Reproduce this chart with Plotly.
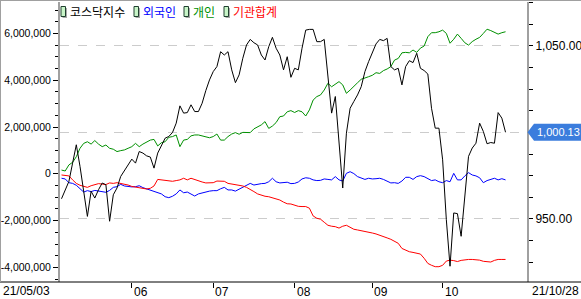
import pandas as pd
import plotly.graph_objects as go

# ---------------- data ----------------
holidays = ["2021-05-05", "2021-05-19", "2021-08-16", "2021-09-20", "2021-09-21",
            "2021-09-22", "2021-10-04", "2021-10-11"]
days = [d.strftime("%Y-%m-%d") for d in pd.bdate_range("2021-05-03", "2021-10-28")
        if d.strftime("%Y-%m-%d") not in holidays]

kosdaq = [961.7, 966.9, 971.7, 982.3, 992.9, 980.4, 965.0, 951.5, 966.0, 962.1,
          966.9, 970.8, 969.8, 948.7, 964.0, 967.9, 974.6, 978.1, 981.3, 984.6,
          982.3, 989.0, 988.1, 986.5, 985.8, 979.4, 988.1, 992.9, 996.7, 997.7,
          1000.0, 1005.4, 1015.4, 1011.2, 1011.5, 1016.0, 1012.1, 1012.1, 1016.9, 1024.2,
          1030.4, 1035.2, 1038.1, 1046.7, 1044.8, 1046.7, 1036.2, 1028.8, 1033.3, 1042.9,
          1050.6, 1053.8, 1051.9, 1050.6, 1044.8, 1041.9, 1049.6, 1055.0, 1048.7, 1044.8,
          1036.2, 1043.8, 1031.9, 1037.1, 1036.2, 1048.7, 1059.2, 1059.6, 1059.6, 1052.5,
          1052.5, 1053.8, 1030.4, 1011.2, 1020.8, 993.8, 967.9, 999.6, 1014.0, 1017.9,
          1021.7, 1026.5, 1035.2, 1041.0, 1045.8, 1051.2, 1053.8, 1053.1, 1054.4, 1038.1,
          1036.2, 1037.1, 1027.5, 1038.1, 1041.5, 1040.4, 1045.8, 1037.1, 1035.8, 1033.8,
          1014.0, 1002.5, 1002.5, 984.2, 949.6, 922.7, 953.5, 953.1, 940.0, 963.1,
          986.2, 991.0, 993.8, 1005.4, 1000.6, 993.5, 994.2, 993.8, 1011.5, 1008.3,
          1000.13]

# net buying, millions
foreign_m = [-0.19, -0.22, -0.38, -0.41, -0.49, -0.64, -0.78, -0.72, -0.76, -0.71,
             -0.74, -0.75, -0.79, -0.71, -0.58, -0.55, -0.45, -0.52, -0.55, -0.56,
             -0.55, -0.51, -0.59, -0.65, -0.69, -0.74, -0.81, -0.86, -0.98, -1.02,
             -0.96, -0.86, -0.69, -0.81, -0.78, -0.86, -0.95, -0.86, -0.81, -0.78,
             -0.74, -0.72, -0.72, -0.64, -0.58, -0.69, -0.69, -0.74, -0.66, -0.58,
             -0.48, -0.41, -0.48, -0.44, -0.42, -0.41, -0.34, -0.19, -0.34, -0.39,
             -0.38, -0.36, -0.42, -0.41, -0.35, -0.22, -0.17, -0.19, -0.26, -0.29,
             -0.28, -0.22, -0.24, -0.26, -0.12, -0.26, -0.31, 0.02, 0.09, 0.01,
             -0.12, -0.18, -0.24, -0.19, -0.22, -0.21, -0.19, -0.24, -0.32, -0.39,
             -0.38, -0.41, -0.31, -0.15, -0.15, -0.24, -0.12, -0.08, -0.12, -0.22,
             -0.29, -0.26, -0.34, -0.38, -0.29, -0.34, 0.02, -0.26, -0.26, -0.09,
             0.05, -0.05, -0.09, -0.17, -0.38, -0.29, -0.24, -0.19, -0.26, -0.21,
             -0.26]

individual_m = [0.16, 0.12, 0.38, 0.49, 0.73, 1.09, 1.30, 1.37, 1.27, 1.42,
                1.27, 1.16, 1.23, 1.09, 1.05, 0.95, 0.99, 1.02, 1.09, 1.16,
                1.30, 1.16, 1.27, 1.37, 1.44, 1.47, 1.19, 1.33, 1.37, 1.56,
                1.59, 1.66, 1.16, 1.44, 1.47, 1.62, 1.66, 1.66, 1.62, 1.56,
                1.54, 1.59, 1.70, 1.44, 1.44, 1.59, 1.70, 1.76, 1.69, 1.77,
                1.76, 1.76, 1.92, 1.99, 2.09, 2.23, 1.94, 2.04, 2.19, 2.44,
                2.47, 2.65, 2.70, 2.62, 2.70, 2.65, 2.47, 2.73, 3.15, 3.30,
                3.37, 3.58, 3.87, 3.72, 3.84, 3.94, 3.80, 3.44, 3.58, 3.75,
                3.89, 4.04, 4.11, 4.15, 4.21, 4.32, 4.29, 4.41, 4.48, 4.58,
                4.86, 4.93, 5.17, 5.19, 5.17, 5.29, 5.19, 5.37, 5.46, 5.86,
                6.03, 6.03, 6.07, 6.14, 6.00, 5.58, 5.75, 5.97, 5.79, 5.60,
                5.50, 5.65, 5.75, 5.83, 6.00, 6.18, 6.12, 6.03, 5.97, 6.03,
                6.07]

institution_m = [-0.05, -0.08, -0.09, -0.26, -0.41, -0.49, -0.55, -0.58, -0.51, -0.45,
                 -0.42, -0.44, -0.46, -0.39, -0.41, -0.38, -0.41, -0.45, -0.48, -0.54,
                 -0.56, -0.59, -0.62, -0.65, -0.62, -0.52, -0.24, -0.26, -0.28, -0.31,
                 -0.32, -0.29, -0.26, -0.19, -0.26, -0.19, -0.25, -0.31, -0.35, -0.39,
                 -0.38, -0.38, -0.31, -0.31, -0.32, -0.41, -0.44, -0.45, -0.48, -0.52,
                 -0.58, -0.66, -0.76, -0.86, -0.92, -0.96, -0.98, -1.02, -1.06, -1.12,
                 -1.21, -1.28, -1.29, -1.35, -1.39, -1.40, -1.40, -1.47, -1.80, -1.90,
                 -1.94, -2.07, -2.20, -2.24, -2.26, -2.32, -2.24, -2.20, -2.29, -2.37,
                 -2.40, -2.43, -2.46, -2.47, -2.53, -2.57, -2.62, -2.66, -2.74, -2.80,
                 -2.90, -2.97, -3.19, -3.26, -3.33, -3.36, -3.38, -3.43, -3.61, -3.83,
                 -3.91, -3.97, -3.97, -3.91, -3.73, -3.69, -3.71, -3.75, -3.70, -3.67,
                 -3.66, -3.66, -3.66, -3.69, -3.74, -3.77, -3.77, -3.70, -3.66, -3.66,
                 -3.66]

series_names = ["코스닥지수", "외국인", "개인", "기관합계"]
series_colors = ["#000000", "#0000ff", "#009000", "#ff0000"]

left_ticks = [-4000000, -2000000, 0, 2000000, 4000000, 6000000]
left_labels = ["-4,000,000", "-2,000,000", "0", "2,000,000", "4,000,000", "6,000,000"]
right_ticks = [950, 1000, 1050]
right_labels = ["950.00", "", "1,050.00"]
month_days = ["2021-06-01", "2021-07-01", "2021-08-02", "2021-09-01", "2021-10-01"]
month_labels = ["06", "07", "08", "09", "10"]
start_label = "21/05/03"
end_label = "21/10/28"

assert len(days) == len(kosdaq) == len(foreign_m) == len(individual_m) == len(institution_m)

# ---------------- figure ----------------
W, H = 581, 299
L, R, T, B = 60, 54, 2, 17
PW, PH = W - L - R, H - T - B


def px(x):  # pixel x -> paper
    return (x - L) / PW


def py(y):  # pixel y -> paper
    return (H - B - y) / PH


FONT = "Liberation Sans, Arial, sans-serif"
KFONT = "Noto Sans CJK KR, sans-serif"

fig = go.Figure()
for name, vals, col in [(series_names[1], foreign_m, series_colors[1]),
                        (series_names[2], individual_m, series_colors[2]),
                        (series_names[3], institution_m, series_colors[3])]:
    fig.add_trace(go.Scatter(x=days, y=[v * 1e6 for v in vals], mode="lines", name=name,
                             line=dict(color=col, width=1), yaxis="y"))
fig.add_trace(go.Scatter(x=days, y=kosdaq, mode="lines", name=series_names[0],
                         line=dict(color=series_colors[0], width=1), yaxis="y2"))

y2_range = [913.58, 1075.43]
fig.update_layout(
    width=W, height=H, margin=dict(l=L, r=R, t=T, b=B, pad=0, autoexpand=False),
    paper_bgcolor="white", plot_bgcolor="white", showlegend=False,
    font=dict(family=FONT, size=12, color="black"),
    xaxis=dict(type="category", categoryorder="array", categoryarray=days,
               range=[-0.405, 125.8], showgrid=False, zeroline=False, showline=False,
               tickmode="array", tickvals=month_days, ticktext=[""] * len(month_days),
               ticks="outside", ticklen=5, tickcolor="black", tickwidth=1,
               showticklabels=False, automargin=False),
    yaxis=dict(range=[-4624000, 7342000], tickmode="array", tickvals=left_ticks,
               ticktext=left_labels, ticks="outside", ticklen=5, tickcolor="black",
               showgrid=False, zeroline=False, showline=True, linecolor="#a0a0a0",
               linewidth=2, tickfont=dict(family=FONT, size=10.5), automargin=False,
               minor=dict(dtick=500000, tick0=0, ticks="outside", ticklen=3,
                          tickcolor="black", showgrid=False)),
    yaxis2=dict(range=y2_range, overlaying="y", side="right", tickmode="array",
                tickvals=right_ticks, ticktext=right_labels, ticks="outside", ticklen=4,
                tickcolor="black", showgrid=True, gridcolor="#cccccc", griddash="dash",
                gridwidth=1, zeroline=False, showline=True, linecolor="#a0a0a0",
                linewidth=2, tickfont=dict(family=FONT, size=12), automargin=False,
                minor=dict(dtick=12.5, tick0=950, ticks="outside", ticklen=4,
                           tickcolor="black", showgrid=False)),
)

shapes = []
# frame lines
shapes.append(dict(type="line", xref="paper", yref="paper", x0=px(0), x1=px(W), y0=py(H - B),
                   y1=py(H - B), line=dict(color="black", width=1)))
shapes.append(dict(type="line", xref="paper", yref="paper", x0=px(0), x1=px(W), y0=py(0.5),
                   y1=py(0.5), line=dict(color="#a0a0a0", width=1)))
shapes.append(dict(type="line", xref="paper", yref="paper", x0=px(0.5), x1=px(0.5), y0=py(0),
                   y1=py(H - B), line=dict(color="#a0a0a0", width=1)))

# current value flag
last = kosdaq[-1]
half = 8.5 * (y2_range[1] - y2_range[0]) / PH
bx0 = px(534)
shapes.append(dict(type="rect", xref="paper", yref="y2", x0=bx0, x1=px(W), y0=last - half,
                   y1=last + half, fillcolor="#3b7ddd", line=dict(width=0), layer="above"))
shapes.append(dict(type="path", xref="paper", yref="y2",
                   path=f"M {px(527.5)},{last} L {bx0},{last + half} L {bx0},{last - half} Z",
                   fillcolor="#3b7ddd", line=dict(width=0), layer="above"))

annotations = [dict(text=f"{last:,.2f}", xref="paper", yref="y2", x=px(W - 0.5), y=last,
                    xanchor="right", yanchor="middle", showarrow=False, borderpad=0,
                    font=dict(family=FONT, size=11, color="white"))]

# legend (icons + coloured names)
legend_icon_x = [61, 134, 184, 224]
for name, col, ix in zip(series_names, series_colors, legend_icon_x):
    shapes.append(dict(type="rect", xref="paper", yref="paper", x0=px(ix + 1.5), x1=px(ix + 6),
                       y0=py(18), y1=py(8), fillcolor="#a8a8a8", line=dict(width=0)))
    shapes.append(dict(type="rect", xref="paper", yref="paper", x0=px(ix), x1=px(ix + 4.5),
                       y0=py(16.5), y1=py(6.5), fillcolor="#c8f5c8",
                       line=dict(color="#204030", width=1)))
    annotations.append(dict(text=name, xref="paper", yref="paper", x=px(ix + 6.5), y=py(12),
                            xanchor="left", yanchor="middle", showarrow=False,
                            font=dict(family=KFONT, size=12, color=col)))

# month labels (left aligned next to their ticks), positioned by category index
for d, lab in zip(month_days, month_labels):
    annotations.append(dict(text=lab, xref="x", yref="paper", x=days.index(d), y=py(292),
                            xanchor="left", yanchor="middle", showarrow=False,
                            font=dict(family=FONT, size=12)))
annotations.append(dict(text=start_label, xref="paper", yref="paper", x=px(1), y=py(291),
                        xanchor="left", yanchor="middle", showarrow=False,
                        font=dict(family=FONT, size=12)))
annotations.append(dict(text=end_label, xref="paper", yref="paper", x=px(W), y=py(291),
                        xanchor="right", yanchor="middle", showarrow=False,
                        font=dict(family=FONT, size=12)))

fig.update_layout(shapes=shapes, annotations=annotations)
fig.write_html("out.html")
